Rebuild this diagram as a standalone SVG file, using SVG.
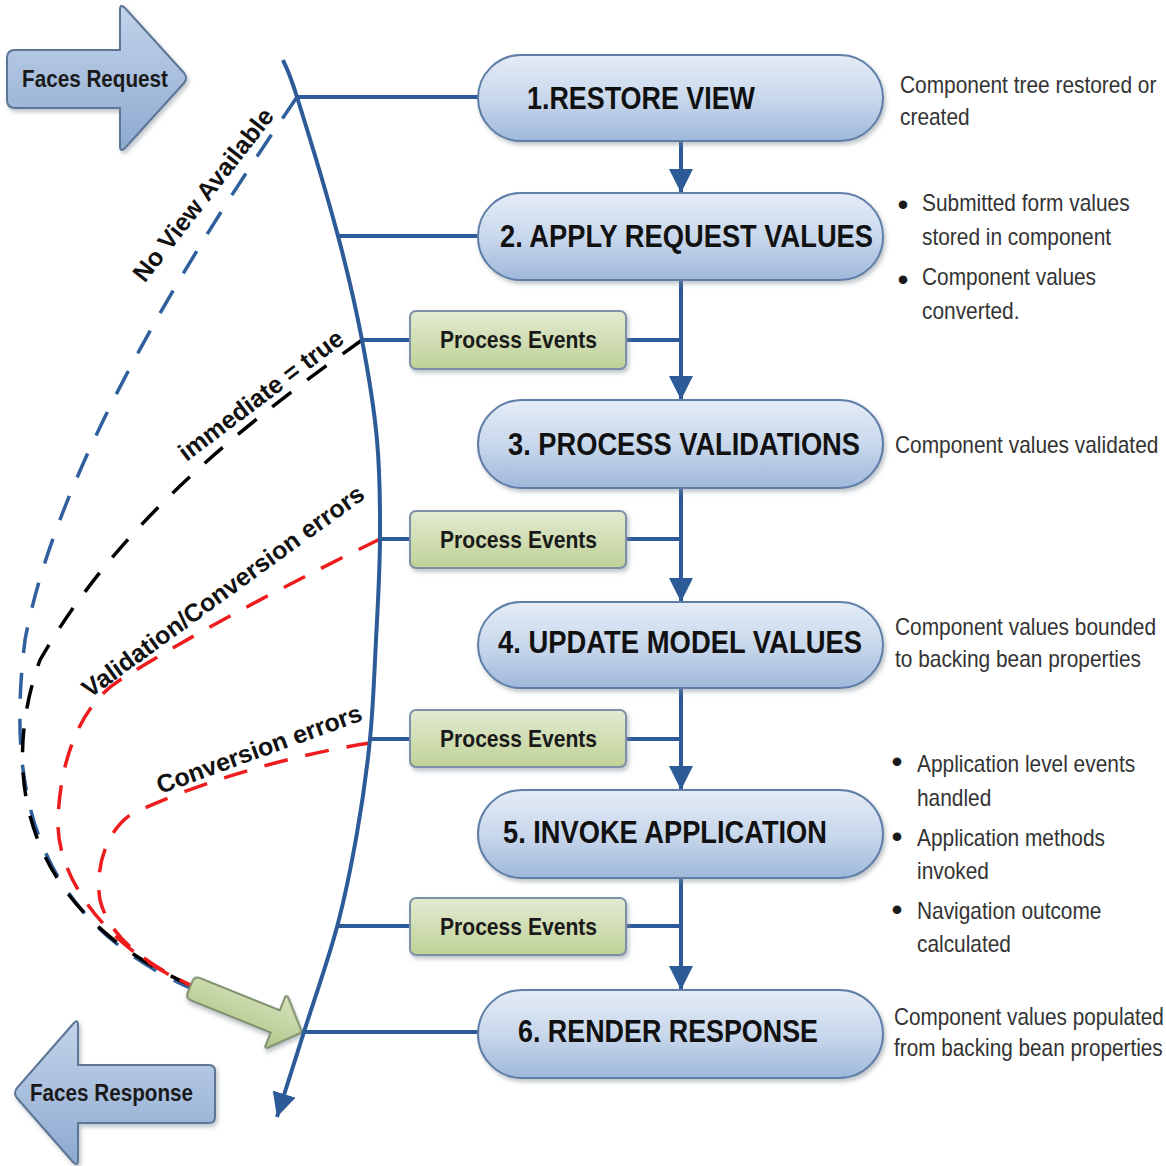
<svg xmlns="http://www.w3.org/2000/svg" width="1166" height="1166" viewBox="0 0 1166 1166">
<style>
.conn{fill:none;stroke:#2d5b98;stroke-width:4;stroke-linecap:butt}
.pill{fill:url(#pillGrad);stroke:#5f7ea8;stroke-width:2;filter:url(#sh)}
.pe{fill:url(#peGrad);stroke:#7d90a6;stroke-width:2;filter:url(#sh)}
.faces{fill:url(#facesGrad);stroke:#5d7596;stroke-width:2;filter:url(#sh)}
.ptxt{font-family:"Liberation Sans",Arial,sans-serif;font-weight:bold;font-size:31px;fill:#111}
.etxt{font-family:"Liberation Sans",Arial,sans-serif;font-weight:bold;font-size:24px;fill:#1a1a1a}
.ftxt{font-family:"Liberation Sans",Arial,sans-serif;font-weight:bold;font-size:23px;fill:#1a1a1a}
.desc{font-family:"Liberation Sans",Arial,sans-serif;font-size:24px;fill:#333}
.bul{font-family:"Liberation Sans",Arial,sans-serif;font-size:30px;font-weight:bold;fill:#1a1a1a;text-anchor:middle}
.lbl{font-family:"Liberation Sans",Arial,sans-serif;font-weight:bold;font-size:25px;fill:#111;text-anchor:middle}
.dblue{fill:none;stroke:#2f5f9d;stroke-width:3.5;stroke-dasharray:26 20}
.dblack{fill:none;stroke:#000;stroke-width:3.5;stroke-dasharray:24 20}
.dred{fill:none;stroke:#ee1c1c;stroke-width:3.5;stroke-dasharray:24 18}
</style>
<defs>
<linearGradient id="pillGrad" x1="0" y1="0" x2="0" y2="1">
<stop offset="0" stop-color="#e4ecf6"/>
<stop offset="0.5" stop-color="#c9d8ec"/>
<stop offset="1" stop-color="#9fb8da"/>
</linearGradient>
<linearGradient id="peGrad" x1="0" y1="0" x2="0" y2="1">
<stop offset="0" stop-color="#e3ebd2"/>
<stop offset="1" stop-color="#bfd196"/>
</linearGradient>
<linearGradient id="facesGrad" x1="0" y1="0" x2="0" y2="1">
<stop offset="0" stop-color="#c3d4ea"/>
<stop offset="1" stop-color="#8eaad1"/>
</linearGradient>
<linearGradient id="greenGrad" x1="0" y1="0" x2="0" y2="1">
<stop offset="0" stop-color="#d6e2bb"/>
<stop offset="1" stop-color="#b2c78a"/>
</linearGradient>
<filter id="sh" x="-10%" y="-20%" width="125%" height="150%">
<feDropShadow dx="2" dy="3" stdDeviation="2" flood-color="#7f8a96" flood-opacity="0.5"/>
</filter>
<marker id="arr" viewBox="0 0 10 10" refX="10" refY="5" markerWidth="6" markerHeight="6" orient="auto" markerUnits="strokeWidth">
<path d="M0,0 L10,5 L0,10 z" fill="#2d5b98"/>
</marker>
</defs>

<g id="faces-request">
<path class="faces" d="M15,50 L120,50 L120,10 Q120,3 125,8 L184,73 Q188,78 184,83 L125,148 Q120,153 120,146 L120,108 L15,108 Q7,108 7,100 L7,58 Q7,50 15,50 Z"/>
<text class="ftxt" x="22" y="87" textLength="146" lengthAdjust="spacingAndGlyphs">Faces Request</text>
</g>
<g id="faces-response">
<path class="faces" d="M209,1065 Q215,1065 215,1071 L215,1117 Q215,1123 209,1123 L78,1123 L78,1160 Q78,1167 73,1162 L17,1098 Q13,1093 17,1088 L73,1024 Q78,1018 78,1025 L78,1065 Z"/>
<text class="ftxt" x="30" y="1101" textLength="163" lengthAdjust="spacingAndGlyphs">Faces Response</text>
</g>

<g id="connectors">
<path class="dblue" d="M297,97 C220,210 60,450 25,640 C5,800 40,920 190,988"/>
<path class="dblack" d="M362,340 C250,420 120,520 40,660 C0,770 20,910 190,985"/>
<path class="dred" d="M380,539 C300,578 190,635 120,680 C80,705 60,760 58,820 C56,880 110,950 190,985"/>
<path class="dred" d="M370,743 C290,755 190,785 130,815 C105,833 95,870 100,900 C110,940 150,965 190,985"/>
<g id="green-arrow" transform="translate(190,987) rotate(22)">
<path d="M6,-12 L92,-12 L92,-27 Q94,-29 96,-26 L119,-2 Q121,0 119,2 L96,26 Q94,29 92,27 L92,12 L6,12 Q0,12 0,6 L0,-6 Q0,-12 6,-12 Z" fill="url(#greenGrad)" stroke="#7f8f70" stroke-width="2" filter="url(#sh)"/>
</g>
<path class="conn" marker-end="url(#arr)" d="M283,60 C285.3,66.2 287.8,67.7 297,97 C306.2,126.3 327.2,195.5 338,236 C348.8,276.5 355.5,306 362,340 C368.5,374 374,406.8 377,440 C380,473.2 380.2,505.7 380,539 C379.8,572.3 377.7,606.7 376,640 C374.3,673.3 373.2,706.8 370,739 C366.8,771.2 362.5,801.7 357,833 C351.5,864.3 346,893.3 337,927 C328,960.7 313,1003.3 303,1035 C293,1066.7 281.3,1103.3 277,1117"/>
<line class="conn" x1="297" y1="97" x2="480" y2="97"/>
<line class="conn" x1="338" y1="236" x2="480" y2="236"/>
<line class="conn" x1="362" y1="340" x2="412" y2="340"/>
<line class="conn" x1="380" y1="539" x2="412" y2="539"/>
<line class="conn" x1="370" y1="739" x2="412" y2="739"/>
<line class="conn" x1="337" y1="926" x2="412" y2="926"/>
<line class="conn" x1="304" y1="1032" x2="480" y2="1032"/>
<line class="conn" x1="625" y1="340" x2="681" y2="340"/>
<line class="conn" x1="625" y1="539" x2="681" y2="539"/>
<line class="conn" x1="625" y1="739" x2="681" y2="739"/>
<line class="conn" x1="625" y1="926" x2="681" y2="926"/>
<line class="conn" marker-end="url(#arr)" x1="681" y1="140" x2="681" y2="193"/>
<line class="conn" marker-end="url(#arr)" x1="681" y1="280" x2="681" y2="400"/>
<line class="conn" marker-end="url(#arr)" x1="681" y1="488" x2="681" y2="602"/>
<line class="conn" marker-end="url(#arr)" x1="681" y1="688" x2="681" y2="790"/>
<line class="conn" marker-end="url(#arr)" x1="681" y1="877" x2="681" y2="990"/>
</g>

<g id="lbl-noview"><text class="lbl" transform="translate(210,200) rotate(-52)">No View Available</text></g>
<g id="lbl-immediate"><text class="lbl" transform="translate(266,402) rotate(-37)">immediate = true</text></g>
<g id="lbl-valconv"><text class="lbl" transform="translate(228,598) rotate(-36)">Validation/Conversion errors</text></g>
<g id="lbl-conv"><text class="lbl" transform="translate(262,757) rotate(-20)">Conversion errors</text></g>

<g id="restore-view">
<rect class="pill" x="478" y="55" width="405" height="86" rx="43"/>
<text class="ptxt" x="527" y="109" textLength="228" lengthAdjust="spacingAndGlyphs">1.RESTORE VIEW</text>
</g>
<g id="apply-request">
<rect class="pill" x="478" y="193" width="405" height="87" rx="43"/>
<text class="ptxt" x="500" y="247" textLength="373" lengthAdjust="spacingAndGlyphs">2. APPLY REQUEST VALUES</text>
</g>
<g id="process-validations">
<rect class="pill" x="478" y="400" width="405" height="88" rx="44"/>
<text class="ptxt" x="508" y="455" textLength="352" lengthAdjust="spacingAndGlyphs">3. PROCESS VALIDATIONS</text>
</g>
<g id="update-model">
<rect class="pill" x="478" y="602" width="405" height="86" rx="43"/>
<text class="ptxt" x="498" y="653" textLength="364" lengthAdjust="spacingAndGlyphs">4. UPDATE MODEL VALUES</text>
</g>
<g id="invoke-application">
<rect class="pill" x="478" y="790" width="405" height="88" rx="44"/>
<text class="ptxt" x="503" y="843" textLength="324" lengthAdjust="spacingAndGlyphs">5. INVOKE APPLICATION</text>
</g>
<g id="render-response">
<rect class="pill" x="478" y="990" width="405" height="88" rx="44"/>
<text class="ptxt" x="518" y="1042" textLength="300" lengthAdjust="spacingAndGlyphs">6. RENDER RESPONSE</text>
</g>

<g id="pe1">
<rect class="pe" x="410" y="311" width="216" height="58" rx="6"/>
<text class="etxt" x="440" y="348" textLength="157" lengthAdjust="spacingAndGlyphs">Process Events</text>
</g>
<g id="pe2">
<rect class="pe" x="410" y="511" width="216" height="57" rx="6"/>
<text class="etxt" x="440" y="548" textLength="157" lengthAdjust="spacingAndGlyphs">Process Events</text>
</g>
<g id="pe3">
<rect class="pe" x="410" y="710" width="216" height="57" rx="6"/>
<text class="etxt" x="440" y="747" textLength="157" lengthAdjust="spacingAndGlyphs">Process Events</text>
</g>
<g id="pe4">
<rect class="pe" x="410" y="898" width="216" height="57" rx="6"/>
<text class="etxt" x="440" y="935" textLength="157" lengthAdjust="spacingAndGlyphs">Process Events</text>
</g>

<g id="desc-restore">
<text class="desc" transform="translate(900,93) scale(0.87,1)">Component tree restored or</text>
<text class="desc" transform="translate(900,125) scale(0.87,1)">created</text>
</g>
<g id="desc-apply">
<text class="bul" x="903" y="215">•</text>
<text class="desc" transform="translate(922,211) scale(0.87,1)">Submitted form values</text>
<text class="desc" transform="translate(922,245) scale(0.87,1)">stored in component</text>
<text class="bul" x="903" y="290">•</text>
<text class="desc" transform="translate(922,285) scale(0.87,1)">Component values</text>
<text class="desc" transform="translate(922,319) scale(0.87,1)">converted.</text>
</g>
<g id="desc-validations">
<text class="desc" transform="translate(895,453) scale(0.87,1)">Component values validated</text>
</g>
<g id="desc-update">
<text class="desc" transform="translate(895,635) scale(0.87,1)">Component values bounded</text>
<text class="desc" transform="translate(895,667) scale(0.87,1)">to backing bean properties</text>
</g>
<g id="desc-invoke">
<text class="bul" x="897" y="772">•</text>
<text class="desc" transform="translate(917,772) scale(0.87,1)">Application level events</text>
<text class="desc" transform="translate(917,806) scale(0.87,1)">handled</text>
<text class="bul" x="897" y="847">•</text>
<text class="desc" transform="translate(917,846) scale(0.87,1)">Application methods</text>
<text class="desc" transform="translate(917,879) scale(0.87,1)">invoked</text>
<text class="bul" x="897" y="920">•</text>
<text class="desc" transform="translate(917,919) scale(0.87,1)">Navigation outcome</text>
<text class="desc" transform="translate(917,952) scale(0.87,1)">calculated</text>
</g>
<g id="desc-render">
<text class="desc" transform="translate(894,1025) scale(0.865,1)">Component values populated</text>
<text class="desc" transform="translate(894,1056) scale(0.865,1)">from backing bean properties</text>
</g>
</svg>
